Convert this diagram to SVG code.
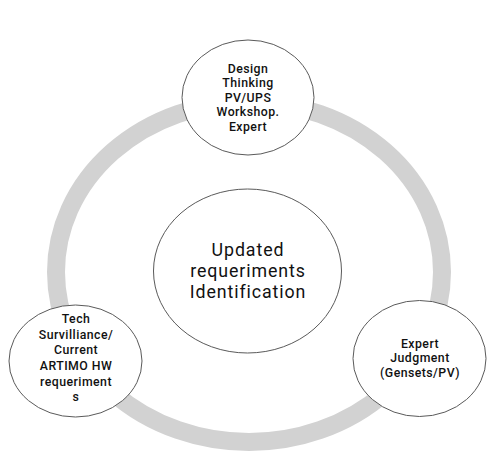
<svg xmlns="http://www.w3.org/2000/svg" width="500" height="455" viewBox="0 0 500 455">
  <style>
    .node { fill: #ffffff; stroke: #5a5a5a; stroke-width: 1; }
    .ring { fill: none; stroke: #d2d2d2; stroke-width: 18; }
    .lbl { font-family: Roboto, "DejaVu Sans", sans-serif; font-size: 12.3px; font-weight: 500; letter-spacing: 0.45px; fill: #111111; text-anchor: middle; }
    .big { font-family: Roboto, "DejaVu Sans", sans-serif; font-size: 17.8px; letter-spacing: 0.9px; fill: #111111; text-anchor: middle; }
  </style>
  <rect width="500" height="455" fill="#ffffff"/>
  <g id="connectors">
    <ellipse class="ring" cx="249" cy="272" rx="193" ry="170"/>
  </g>
  <g id="node-center">
    <ellipse class="node" cx="247.5" cy="271" rx="94" ry="82"/>
    <text class="big" x="248" y="255.8">Updated</text>
    <text class="big" x="248" y="277.3">requeriments</text>
    <text class="big" x="248" y="298.2">Identification</text>
  </g>
  <g id="node-top">
    <ellipse class="node" cx="248" cy="97.5" rx="66" ry="57.5"/>
    <text class="lbl" x="248" y="72.8">Design</text>
    <text class="lbl" x="248" y="87.3">Thinking</text>
    <text class="lbl" x="248" y="101.8">PV/UPS</text>
    <text class="lbl" x="248" y="116.3">Workshop.</text>
    <text class="lbl" x="248" y="131">Expert</text>
  </g>
  <g id="node-left">
    <ellipse class="node" cx="75.5" cy="361" rx="66.5" ry="56"/>
    <text class="lbl" x="76" y="323.3">Tech</text>
    <text class="lbl" x="76" y="338.8">Survilliance/</text>
    <text class="lbl" x="76" y="354.4">Current</text>
    <text class="lbl" x="76" y="370">ARTIMO HW</text>
    <text class="lbl" x="76" y="385.6">requeriment</text>
    <text class="lbl" x="76" y="401.2">s</text>
  </g>
  <g id="node-right">
    <ellipse class="node" cx="419.5" cy="358.5" rx="66.5" ry="58"/>
    <text class="lbl" x="420" y="347.7">Expert</text>
    <text class="lbl" x="420" y="362.3">Judgment</text>
    <text class="lbl" x="420" y="377">(Gensets/PV)</text>
  </g>
</svg>
